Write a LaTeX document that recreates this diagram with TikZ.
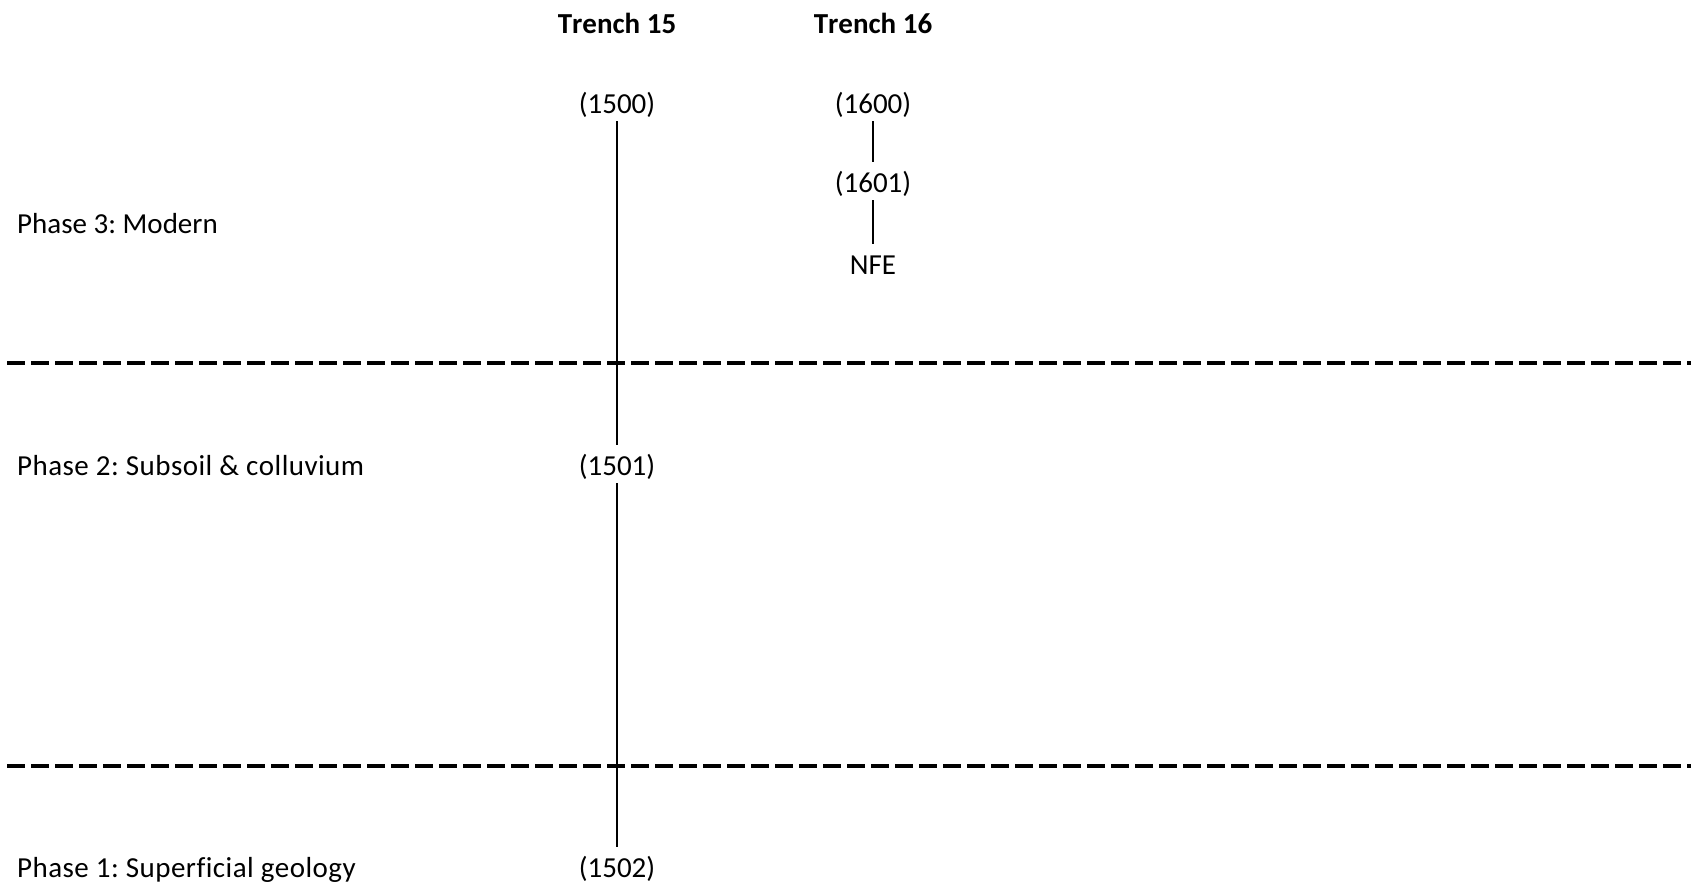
\documentclass[tikz,border=0pt]{standalone}
\usepackage{fontspec}
\setmainfont{Carlito}[Kerning=Off,Ligatures=NoCommon]
\frenchspacing
\begin{document}
\begin{tikzpicture}[x=1pt,y=-1pt,
  ctx/.style={anchor=base,inner sep=0pt,text height=30pt,text depth=8pt,
    font=\fontsize{29}{35}\selectfont},
  trench/.style={anchor=base,inner sep=0pt,font=\fontsize{29}{35}\selectfont\bfseries},
  phase/.style={anchor=base west,inner sep=0pt,font=\fontsize{29}{35}\selectfont},
  widephase/.style={phase,font=\fontsize{29}{35}\selectfont\addfontfeature{LetterSpace=1.6}},
  link/.style={line width=1.6pt},
  divider/.style={line width=4pt,dash pattern=on 18pt off 6pt}]
\useasboundingbox (0,0) rectangle (1691,886);

% phase dividers
\coordinate (d1a) at (7,363);  \coordinate (d1b) at (1691,363);
\coordinate (d2a) at (7,766);  \coordinate (d2b) at (1691,766);
\draw[divider] (d1a) -- (d1b);
\draw[divider] (d2a) -- (d2b);

% column headings
\node[trench] (t15) at (617,33) {Trench 15};
\node[trench] (t16) at (873,33) {Trench 16};

% phase labels
\node[phase] (p3) at (17,233) {Phase 3: Modern};
\node[widephase] (p2) at (17,475) {Phase 2: Subsoil \& colluvium};
\node[widephase] (p1) at (17,877) {Phase 1: Superficial geology};

% Trench 15 contexts
\node[ctx] (c1500) at (617,113) {(1500)};
\node[ctx] (c1501) at (617,475) {(1501)};
\node[ctx] (c1502) at (617,877) {(1502)};

% Trench 16 contexts
\node[ctx] (c1600) at (873,113) {(1600)};
\node[ctx] (c1601) at (873,192) {(1601)};
\node[ctx] (nfe)   at (873,274) {NFE};

% stratigraphic links
\draw[link] (c1500.south) -- (c1501.north);
\draw[link] (c1501.south) -- (c1502.north);
\draw[link] (c1600.south) -- (c1601.north);
\draw[link] (c1601.south) -- (nfe.north);
\end{tikzpicture}
\end{document}
